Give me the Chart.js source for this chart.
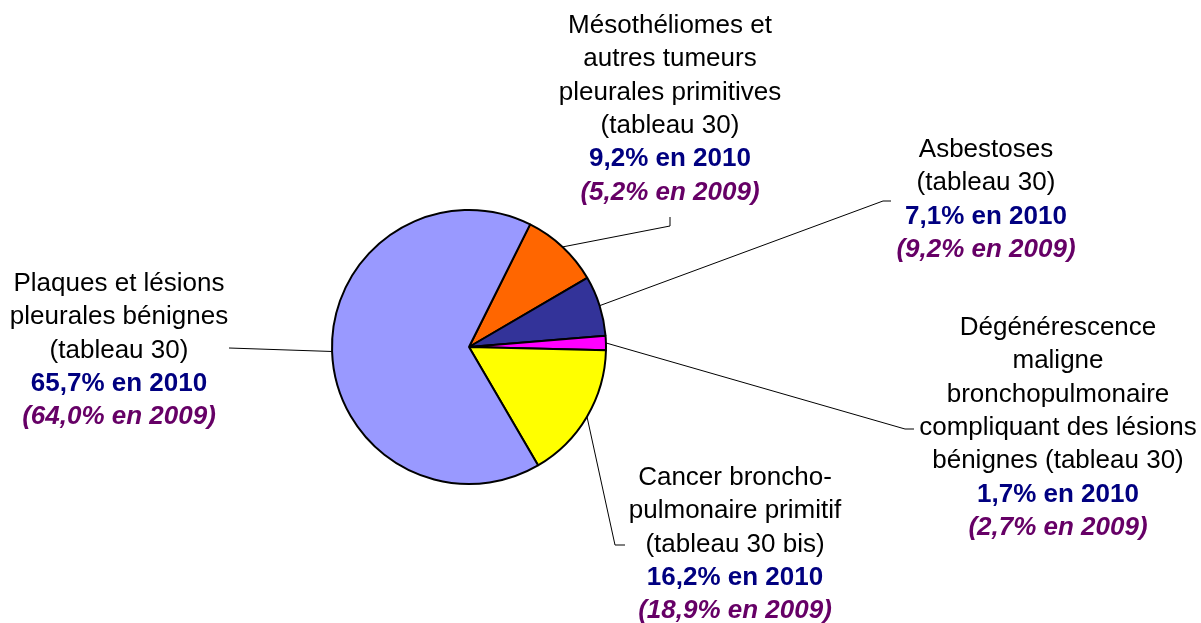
<!DOCTYPE html>
<html>
<head>
<meta charset="utf-8">
<script src="https://cdn.jsdelivr.net/npm/chart.js@4"></script>
<style>
  body { margin: 0; background: #fff; }
  #wrap { width: 1201px; height: 623px; position: relative; }
</style>
</head>
<body>
<div id="wrap"><canvas id="pie"></canvas></div>
<script>
const categories = [
  "Mésothéliomes et autres tumeurs pleurales primitives (tableau 30)",
  "Asbestoses (tableau 30)",
  "Dégénérescence maligne bronchopulmonaire compliquant des lésions bénignes (tableau 30)",
  "Cancer broncho-pulmonaire primitif (tableau 30 bis)",
  "Plaques et lésions pleurales bénignes (tableau 30)"
];
// the same names, broken the way the labels wrap
const nameLines = [
  ["Mésothéliomes et", "autres tumeurs", "pleurales primitives", "(tableau 30)"],
  ["Asbestoses", "(tableau 30)"],
  ["Dégénérescence", "maligne", "bronchopulmonaire", "compliquant des lésions", "bénignes (tableau 30)"],
  ["Cancer broncho-", "pulmonaire primitif", "(tableau 30 bis)"],
  ["Plaques et lésions", "pleurales bénignes", "(tableau 30)"]
];
const share2010 = [9.2, 7.1, 1.7, 16.2, 65.7];
const share2009 = [5.2, 9.2, 2.7, 18.9, 64.0];

const colors = ['#ff6600', '#333399', '#ff00ff', '#ffff00', '#9999ff'];

// where each label block sits and where its leader line bends
const labelLayout = [
  { x: 670, y: 33, elbow: [670, 226], end: [670, 217] },
  { x: 986, y: 157, elbow: [883, 201], end: [891, 201] },
  { x: 1058, y: 335, elbow: [905, 429], end: [914, 429] },
  { x: 735, y: 485, elbow: [615, 545], end: [625, 545] },
  { x: 119, y: 291, elbow: [229, 348], end: [229, 348] }
];
const lineGap = 33.3;

function fmt(v) {
  return v.toFixed(1).replace('.', ',');
}

const calloutPlugin = {
  id: 'callouts',
  afterDatasetsDraw(chart) {
    const ctx = chart.ctx;
    const arcs = chart.getDatasetMeta(0).data;
    ctx.save();
    arcs.forEach((arc, i) => {
      const { x, y, startAngle, endAngle, outerRadius } =
        arc.getProps(['x', 'y', 'startAngle', 'endAngle', 'outerRadius'], true);
      const mid = (startAngle + endAngle) / 2;
      const lay = labelLayout[i];

      ctx.beginPath();
      ctx.moveTo(x + Math.cos(mid) * outerRadius, y + Math.sin(mid) * outerRadius);
      ctx.lineTo(lay.elbow[0], lay.elbow[1]);
      ctx.lineTo(lay.end[0], lay.end[1]);
      ctx.strokeStyle = '#000';
      ctx.lineWidth = 1;
      ctx.stroke();

      const lines = nameLines[i].map(t => [t, 'normal', '#000']).concat([
        [fmt(share2010[i]) + '% en 2010', 'bold', '#000080'],
        ['(' + fmt(share2009[i]) + '% en 2009)', 'italic bold', '#660066']
      ]);
      ctx.textAlign = 'center';
      ctx.textBaseline = 'alphabetic';
      lines.forEach(([t, w, c], k) => {
        ctx.font = w + ' 26px "Liberation Sans", Arial, sans-serif';
        ctx.fillStyle = c;
        ctx.fillText(t, lay.x, lay.y + k * lineGap);
      });
    });
    ctx.restore();
  }
};

new Chart(document.getElementById('pie'), {
  type: 'pie',
  data: {
    labels: categories,
    datasets: [{
      data: share2010,
      backgroundColor: colors,
      borderColor: '#000',
      borderWidth: 2
    }]
  },
  options: {
    responsive: true,
    maintainAspectRatio: false,
    animation: false,
    rotation: 26.5,
    radius: 137,
    layout: { padding: { left: 0, right: 263, top: 71, bottom: 0 } },
    plugins: {
      legend: { display: false },
      tooltip: { enabled: false }
    }
  },
  plugins: [calloutPlugin]
});
</script>
</body>
</html>
